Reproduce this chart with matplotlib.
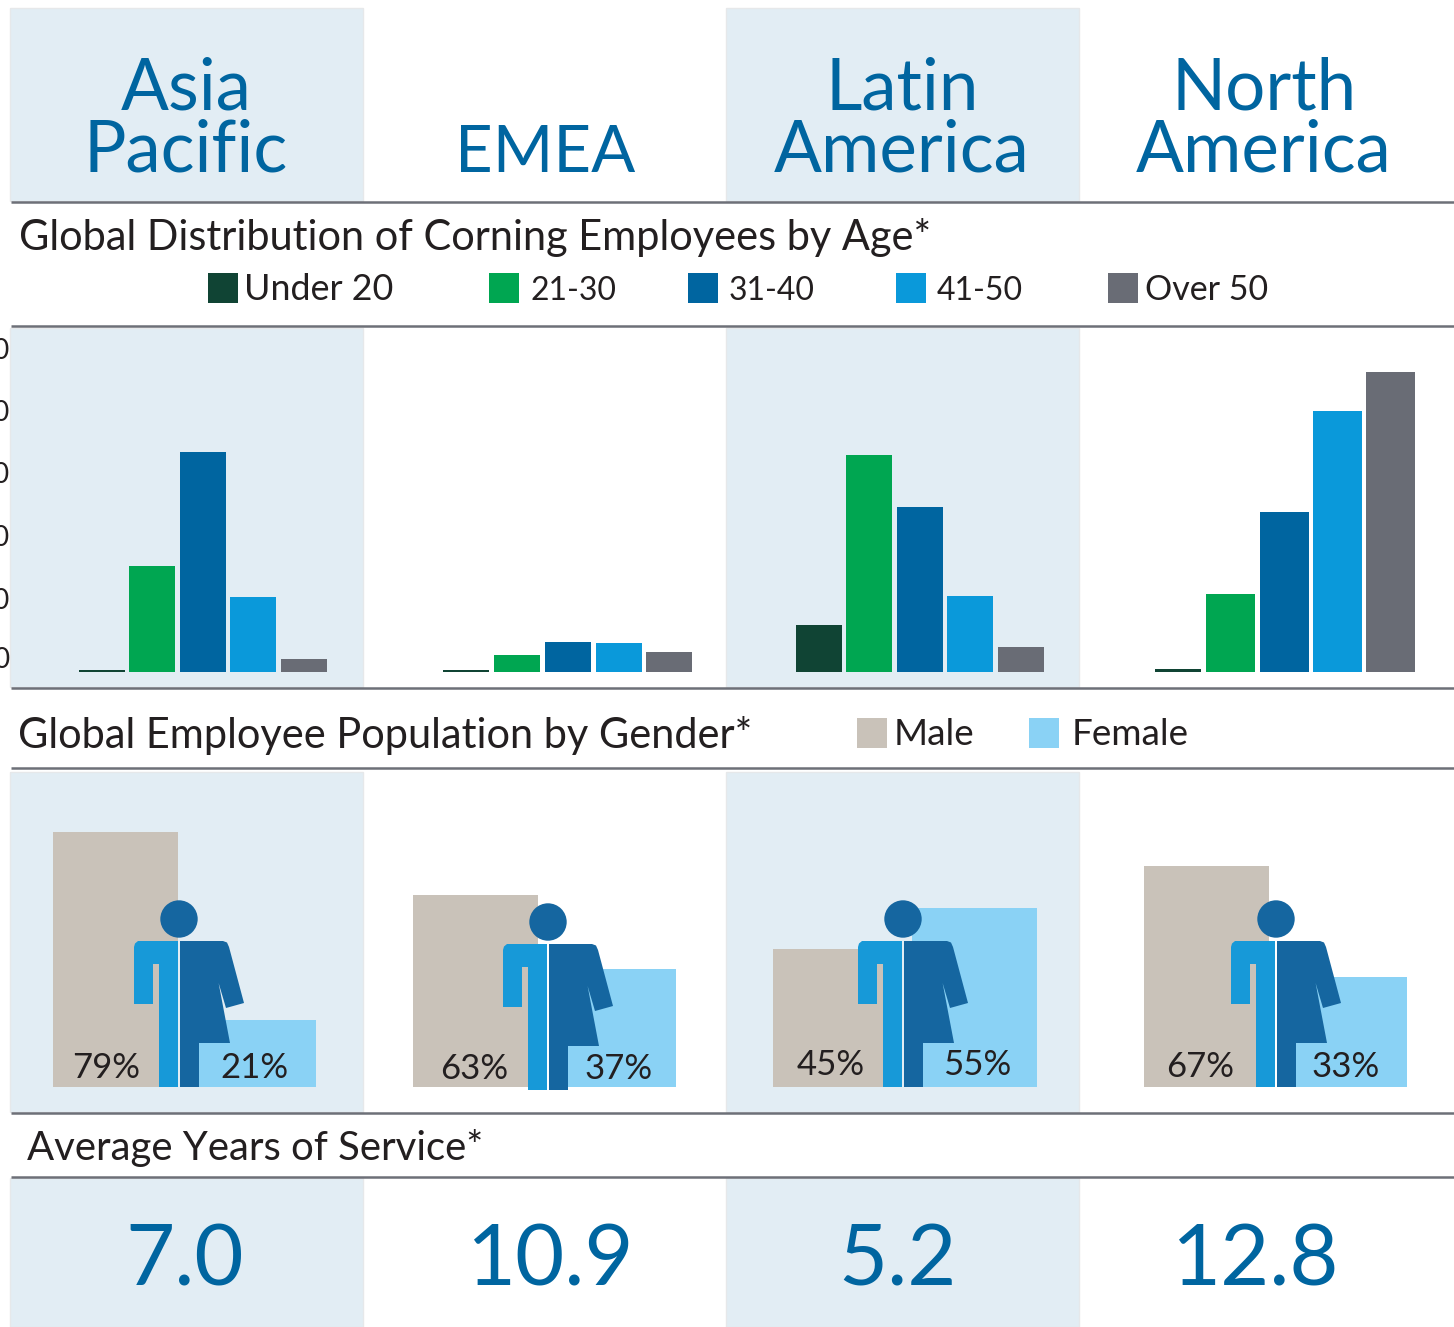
import matplotlib as mpl
mpl.use('Agg')
import matplotlib.pyplot as plt
from matplotlib.patches import Rectangle, Polygon, Circle

W, H = 1454, 1327
FONT = 'Lato'

# regions
headers = ['Asia\nPacific', 'EMEA', 'Latin\nAmerica', 'North\nAmerica']
service = ['7.0', '10.9', '5.2', '12.8']

# age bars
age_labels = ['Under 20', '21-30', '31-40', '41-50', 'Over 50']
age_ticks = ['0', '10', '20', '30', '40', '50']
age_asia = [0.3, 17.1, 35.5, 12.1, 2.1]
age_emea = [0.3, 2.8, 4.9, 4.7, 3.3]
age_latam = [7.6, 35.0, 26.6, 12.3, 4.0]
age_namer = [0.5, 12.6, 25.8, 42.1, 48.4]
age_colors = ['#104434', '#00a651', '#0065a0', '#0a99da', '#696c75']

# gender
male_labels = ['79%', '63%', '45%', '67%']
female_labels = ['21%', '37%', '55%', '33%']
male_bars = [79.6, 60.0, 43.1, 69.0]
female_bars = [21.0, 36.9, 55.9, 34.4]

C_PANEL = '#e2edf4'
C_LINE = '#6d7078'
C_BLUE = '#0065a0'
C_TEXT = '#231f20'
C_MALE = '#c9c2b9'
C_FEMALE = '#8ad2f5'
C_ICON_L = '#1799d8'
C_ICON_R = '#1566a0'


def px_axes(top, bottom, zorder):
    ax = fig.add_axes([0, 1-bottom/H, 1, (bottom-top)/H], zorder=zorder)
    ax.patch.set_alpha(0)
    ax.set_xlim(0, W)
    ax.set_xticks([])
    ax.set_yticks([])
    for s in ax.spines.values():
        s.set_visible(False)
    return ax


fig = plt.figure(figsize=(W/100, H/100), dpi=100, facecolor='w')
plt.rcParams['font.family'] = FONT

# background layer, pixel coordinates
bg = px_axes(0, H, 0)
bg.set_ylim(H, 0)
for x0 in [10, 726]:
    for y0, y1 in [(8, 201), (328, 687), (772, 1112), (1178, 1327)]:
        bg.add_patch(Rectangle((x0, y0), 353, y1-y0, fc=C_PANEL, ec='#e6e8ea', lw=1))
for y in [202, 326, 688, 768, 1113, 1177]:
    bg.plot([11, W], [y, y], color=C_LINE, lw=1.8, solid_capstyle='butt')

# headers
hx = [186, 545, 902, 1264]
hsize = [51, 47, 51, 51]
for x, s, fs in zip(hx, headers, hsize):
    bg.text(x, 172, s, color=C_BLUE, fontsize=fs, ha='center', va='baseline',
            linespacing=0.95, multialignment='center')

# section titles
bg.text(19, 250, 'Global Distribution of Corning Employees by Age*', color=C_TEXT,
        fontsize=29.9, va='baseline')
bg.text(18, 748, 'Global Employee Population by Gender*', color=C_TEXT,
        fontsize=29.9, va='baseline')
bg.text(27, 1160, 'Average Years of Service*', color=C_TEXT,
        fontsize=28.9, va='baseline')

# age legend
swatch_x = [208, 489, 688, 896, 1108]
label_x = [244, 531, 729, 937, 1145]
label_fs = [25.8, 23, 23, 23, 24.5]
for sx, lx, s, c, fs in zip(swatch_x, label_x, age_labels, age_colors, label_fs):
    bg.add_patch(Rectangle((sx, 273), 30, 30, fc=c, ec='none'))
    bg.text(lx, 300, s, color=C_TEXT, fontsize=fs, va='baseline')

# gender legend
bg.add_patch(Rectangle((857, 718), 30, 30, fc=C_MALE, ec='none'))
bg.text(894, 745, 'Male', color=C_TEXT, fontsize=26.5, va='baseline')
bg.add_patch(Rectangle((1029, 718), 30, 30, fc=C_FEMALE, ec='none'))
bg.text(1072, 745, 'Female', color=C_TEXT, fontsize=26.5, va='baseline')

# age bars
ax_age = px_axes(328, 672, 1)
ax_age.set_ylim(0, 344/6.2)
age_series = [age_asia, age_emea, age_latam, age_namer]
age_left = [[79, 129, 180, 230, 281], [443, 494, 545, 596, 646],
            [796, 846, 897, 947, 998], [1155, 1206, 1260, 1313, 1366]]
age_width = [[46]*5, [46]*5, [46]*5, [46, 49, 49, 49, 49]]
for vals, lefts, widths in zip(age_series, age_left, age_width):
    ax_age.bar(lefts, vals, width=widths, align='edge', color=age_colors, lw=0)

# cropped tick labels on the left edge, cut in the reference too
tick_y = [660, 601, 538, 475, 413, 351]
for y, s in zip(tick_y, age_ticks):
    bg.text(9.5, y, s, color=C_TEXT, fontsize=20, ha='right', va='center')

# gender bars
ax_gen = px_axes(772, 1087, 1)
ax_gen.set_ylim(0, 315/3.2)
male_left = [53, 413, 773, 1144]
female_right = [316, 676, 1037, 1407]
for ml, fr, m, f in zip(male_left, female_right, male_bars, female_bars):
    ax_gen.bar(ml, m, width=125, align='edge', color=C_MALE, lw=0)
    ax_gen.bar(fr-125, f, width=125, align='edge', color=C_FEMALE, lw=0)

# person icons on top
top = px_axes(0, H, 2)
top.set_ylim(H, 0)
head_x = [179, 548, 903, 1276]
head_y = [919, 922, 919, 919]
left_half = [(-45, 28), (-44, 24.5), (-41, 22), (-1, 22), (-1, 168), (-20, 168), (-20, 45),
             (-26, 45), (-26, 85), (-45, 85)]
right_half = [(1, 22), (44, 22), (48, 23.5), (50, 28), (65, 84), (47, 89), (34, 45), (36, 45),
              (51, 124), (20, 124), (20, 168), (1, 168)]
for hxx, hy in zip(head_x, head_y):
    top.add_patch(Circle((hxx, hy), 18.7, fc=C_ICON_R, ec='none'))
    top.add_patch(Polygon([(hxx+a, hy+b) for a, b in left_half], fc=C_ICON_L, ec='none'))
    top.add_patch(Polygon([(hxx+a, hy+b) for a, b in right_half], fc=C_ICON_R, ec='none'))

male_tx = [106, 474, 831, 1200]
female_tx = [254, 619, 977, 1346]
pct_y = [1078, 1079, 1075, 1077]
for mx, fx, y, ms, fs in zip(male_tx, female_tx, pct_y, male_labels, female_labels):
    top.text(mx, y, ms, color=C_TEXT, fontsize=25, ha='center', va='baseline')
    top.text(fx, y, fs, color=C_TEXT, fontsize=25, ha='center', va='baseline')

# years of service
sx = [185, 550, 897, 1255]
for x, s in zip(sx, service):
    bg.text(x, 1285, s, color=C_BLUE, fontsize=61, ha='center', va='baseline')

fig.savefig('out.png', dpi=100, facecolor='w')
